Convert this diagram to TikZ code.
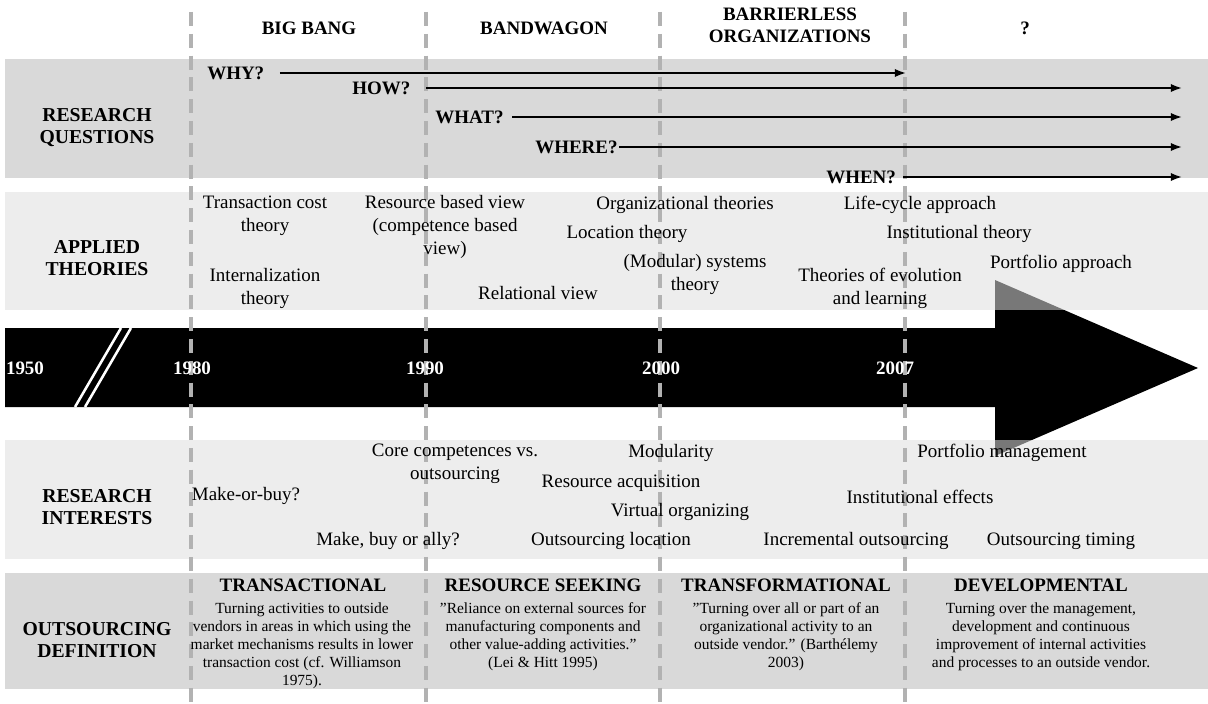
\documentclass[tikz,border=0pt]{standalone}
\usepackage{fontspec}
\setmainfont{Liberation Serif}
\usetikzlibrary{arrows.meta}
\tikzset{
   darkband/.style={fill=black!15},
   lightband/.style={fill=black!12.5, fill opacity=0.54},
   period/.style={draw=black!30, line width=2.6pt, dash pattern=on 10pt off 5.5pt},
   rowlabel/.style={font=\bfseries\fontsize{14}{15.6}\selectfont, align=center},
   era/.style={font=\bfseries\fontsize{13.5}{15.6}\selectfont, align=center},
   qlabel/.style={font=\bfseries\fontsize{13.5}{16}\selectfont, inner sep=0pt, anchor=west},
   qarrow/.style={-{Latex[length=8pt,width=6pt]}, line width=1.4pt},
   item/.style={font=\fontsize{13.5}{16.3}\selectfont, align=center, inner sep=0pt},
   year/.style={text=white, font=\bfseries\fontsize{13.5}{16}\selectfont, inner sep=0pt},
   defhead/.style={font=\bfseries\fontsize{13.5}{16}\selectfont, inner sep=0pt},
   deftext/.style={font=\fontsize{11}{12.8}\selectfont, align=center, inner sep=0pt}
}
\begin{document}
\begin{tikzpicture}[x=0.025cm,y=-0.025cm]
   \useasboundingbox (0,0) rectangle (1208,703);
   \fill[white] (0,0) rectangle (1208,703);
   \fill[black] (5,328) -- (995,328) -- (995,280) -- (1198,368) -- (995,456)
      -- (995,407) -- (5,407) -- cycle;
   \draw[white,line width=1.8pt] (75,407) -- (121,328) (85,407) -- (131,328);
   \fill[darkband] (5,59) rectangle (1208,178);
   \fill[lightband] (5,192) rectangle (1208,310);
   \fill[lightband] (5,440) rectangle (1208,559);
   \fill[darkband] (5,573) rectangle (1208,689);
   \foreach \x in {191,426,660,905}
      \draw[period] (\x,12) -- (\x,703);

   \node[era] (bigbang) at (309,28) {BIG BANG};
   \node[era] (bandwagon) at (544,28) {BANDWAGON};
   \node[era] (barrierless) at (790,25) {BARRIERLESS\\ORGANIZATIONS};
   \node[era] (unknown) at (1025,28) {?};

   \node[rowlabel] (questions) at (97,128) {RESEARCH\\QUESTIONS};
   \node[rowlabel] (theories) at (97,258) {APPLIED\\THEORIES};
   \node[rowlabel] (interests) at (97,507) {RESEARCH\\INTERESTS};
   \node[rowlabel] (definition) at (97,640) {OUTSOURCING\\DEFINITION};

   \node[qlabel] (why) at (207,73) {WHY?};
   \node[qlabel] (how) at (352,88) {HOW?};
   \node[qlabel] (what) at (435,117) {WHAT?};
   \node[qlabel] (where) at (535,147) {WHERE?};
   \node[qlabel] (when) at (826,177) {WHEN?};
   \coordinate (whyend) at (906,73);
   \coordinate (howend) at (1182,89);
   \coordinate (whatend) at (1182,118);
   \coordinate (whereend) at (1182,147);
   \coordinate (whenend) at (1182,177);
   \draw[qarrow] ([xshift=11pt]why.east) -- (whyend);
   \draw[qarrow] ([xshift=11pt]how.east) -- (how.east -| howend);
   \draw[qarrow] ([xshift=6pt]what.east) -- (what.east -| whatend);
   \draw[qarrow] ([xshift=1pt]where.east) -- (where.east -| whereend);
   \draw[qarrow] ([xshift=5pt]when.east) -- (when.east -| whenend);

   \node[item] (tct) at (265,216) {Transaction cost\\theory};
   \node[item] (intern) at (265,288) {Internalization\\theory};
   \node[item] (rbv) at (445,227) {Resource based view\\(competence based\\view)};
   \node[item] (relview) at (538,293) {Relational view};
   \node[item] (orgtheo) at (685,205) {Organizational theories};
   \node[item] (loctheo) at (627,234) {Location theory};
   \node[item] (modsys) at (695,274) {(Modular) systems\\theory};
   \node[item] (lifecycle) at (920,205) {Life-cycle approach};
   \node[item] (insttheo) at (959,234) {Institutional theory};
   \node[item] (evolution) at (880,288) {Theories of evolution\\and learning};
   \node[item] (portfolio) at (1061,264) {Portfolio approach};

   \node[year] (y1950) at (25,368) {1950};
   \node[year] (y1980) at (192,368) {1980};
   \node[year] (y1990) at (425,368) {1990};
   \node[year] (y2000) at (661,368) {2000};
   \node[year] (y2007) at (895,368) {2007};

   \node[item] (corecomp) at (455,464) {Core competences vs.\\outsourcing};
   \node[item] (makebuy) at (246,496) {Make-or-buy?};
   \node[item] (makeally) at (388,541) {Make, buy or ally?};
   \node[item] (modularity) at (671,453) {Modularity};
   \node[item] (resacq) at (621,483) {Resource acquisition};
   \node[item] (virtual) at (680,512) {Virtual organizing};
   \node[item] (location) at (611,541) {Outsourcing location};
   \node[item] (portman) at (1002,453) {Portfolio management};
   \node[item] (insteff) at (920,497) {Institutional effects};
   \node[item] (incremental) at (856,541) {Incremental outsourcing};
   \node[item] (timing) at (1061,541) {Outsourcing timing};

   \node[defhead] (transact) at (303,585) {TRANSACTIONAL};
   \node[defhead] (resseek) at (543,585) {RESOURCE SEEKING};
   \node[defhead] (transform) at (786,585) {TRANSFORMATIONAL};
   \node[defhead] (develop) at (1041,585) {DEVELOPMENTAL};
   \node[deftext] (transactdef) at (302,646) {Turning activities to outside\\vendors in areas in which using the\\market mechanisms results in lower\\transaction cost (cf. Williamson\\1975).};
   \node[deftext] (resseekdef) at (543,637) {”Reliance on external sources for\\manufacturing components and\\other value-adding activities.”\\(Lei \& Hitt 1995)};
   \node[deftext] (transformdef) at (786,637) {”Turning over all or part of an\\organizational activity to an\\outside vendor.” (Barthélemy\\2003)};
   \node[deftext] (developdef) at (1041,637) {Turning over the management,\\development and continuous\\improvement of internal activities\\and processes to an outside vendor.};
\end{tikzpicture}
\end{document}
